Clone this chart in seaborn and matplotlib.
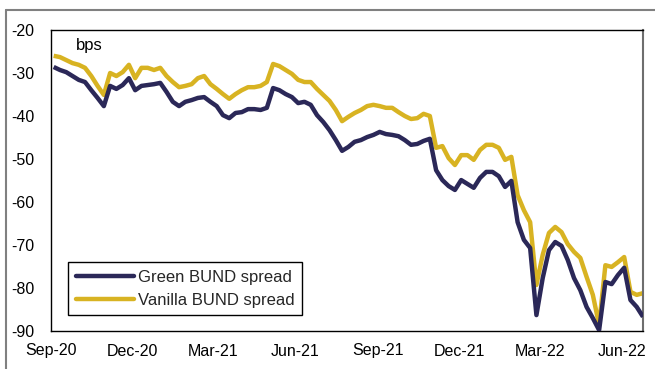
import matplotlib
matplotlib.use("Agg")
import matplotlib.pyplot as plt
import matplotlib.dates as mdates
from matplotlib.lines import Line2D
import numpy as np
import pandas as pd
import seaborn as sns

# Weekly observations (Fridays), Sep 2020 - Jun 2022, spread to Bund in bps
week_start = "2020-09-04"
n_weeks = 95

green_spread = [
    -28.6, -29.3, -29.8, -30.7, -31.6, -32.1, -34.0, -35.8, -37.7, -33.0,
    -33.7, -32.8, -31.2, -34.0, -33.0, -32.8, -32.6, -32.3, -34.4, -36.7,
    -37.7, -36.7, -36.3, -35.8, -35.6, -36.7, -37.7, -39.8, -40.5, -39.3,
    -39.1, -38.4, -38.4, -38.6, -38.1, -33.5, -34.0, -34.9, -35.6, -37.0,
    -36.7, -37.4, -39.8, -41.4, -43.3, -45.6, -48.1, -47.2, -46.0, -45.6,
    -44.9, -44.4, -43.7, -44.2, -44.4, -44.7, -45.6, -46.7, -46.5, -45.8,
    -45.3, -52.6, -54.9, -56.3, -57.2, -54.9, -55.8, -56.7, -54.4, -53.0,
    -53.0, -54.0, -56.5, -55.1, -64.7, -68.8, -70.7, -86.3, -77.7, -71.2,
    -69.3, -70.2, -73.5, -77.7, -80.5, -84.4, -87.0, -89.8, -78.6, -79.1,
    -77.0, -75.3, -82.8, -84.4, -86.7,
]

vanilla_spread = [
    -26.0, -26.3, -27.0, -27.7, -28.1, -28.8, -30.7, -33.0, -35.1, -30.0,
    -30.7, -29.8, -28.1, -31.2, -28.8, -28.8, -29.3, -28.8, -30.7, -32.1,
    -33.3, -33.0, -32.6, -31.2, -30.7, -32.6, -33.7, -34.9, -36.0, -34.9,
    -34.0, -33.3, -33.3, -33.0, -32.1, -27.9, -28.4, -29.3, -30.2, -31.6,
    -32.1, -32.1, -33.7, -35.1, -36.5, -38.6, -41.2, -40.2, -39.3, -38.6,
    -37.7, -37.4, -37.7, -38.1, -38.1, -39.1, -40.0, -40.7, -40.5, -39.5,
    -40.0, -47.4, -47.0, -49.8, -51.4, -49.1, -49.1, -50.2, -47.9, -46.7,
    -46.7, -47.4, -50.2, -49.5, -58.4, -61.9, -64.7, -79.3, -72.3, -67.2,
    -65.8, -67.0, -69.8, -71.6, -73.0, -77.4, -81.6, -88.6, -74.7, -75.1,
    -74.0, -72.8, -80.9, -81.6, -81.2,
]

series_names = ["Green BUND spread", "Vanilla BUND spread"]
series_colors = ["#2b2858", "#d8b322"]
quarter_ticks = ["2020-09-01", "2020-12-01", "2021-03-01", "2021-06-01",
                 "2021-09-01", "2021-12-01", "2022-03-01", "2022-06-01"]
y_ticks = [-90, -80, -70, -60, -50, -40, -30, -20]

dates = pd.date_range(week_start, periods=n_weeks, freq="7D")
df = pd.concat([
    pd.DataFrame({"date": dates, "spread": green_spread, "series": series_names[0]}),
    pd.DataFrame({"date": dates, "spread": vanilla_spread, "series": series_names[1]}),
])

sns.set_theme(style="white")
plt.rcParams["font.family"] = ["Liberation Sans", "DejaVu Sans"]
plt.rcParams["axes.unicode_minus"] = False

fig = plt.figure(figsize=(6.55, 3.69), dpi=100)
fig.patch.set_facecolor("white")
W, H = 655, 369
ax = fig.add_axes([51 / W, (H - 331) / H, 592 / W, 301 / H])

# draw vanilla first so the green line sits on top
sns.lineplot(data=df, x="date", y="spread", hue="series",
             hue_order=series_names[::-1], palette=series_colors[::-1],
             linewidth=3.2, ax=ax, legend=False)
for ln in ax.get_lines():
    ln.set_solid_capstyle("butt")
    ln.set_solid_joinstyle("round")
ax.get_lines()[0].set_zorder(2)
ax.get_lines()[1].set_zorder(3)

ax.set_xlim(pd.Timestamp("2020-09-01"), pd.Timestamp("2022-06-24"))
ax.set_ylim(-90, -20)
ax.set_yticks(y_ticks)
ax.set_xticks(pd.to_datetime(quarter_ticks))
ax.xaxis.set_major_formatter(mdates.DateFormatter("%b-%y"))
ax.set_xlabel("")
ax.set_ylabel("")
ax.tick_params(axis="y", direction="in", length=4, width=1, pad=12,
               labelsize=11.5, colors="black")
ax.tick_params(axis="x", length=0, pad=9, labelsize=11.5, colors="black")

for side in ["left", "bottom", "top"]:
    ax.spines[side].set_color("black")
    ax.spines[side].set_linewidth(1.0)
ax.spines["right"].set_color("#6e6e6e")
ax.spines["right"].set_linewidth(1.5)

ax.text(0.042, 0.948, "bps", transform=ax.transAxes, fontsize=12,
        va="center", ha="left", color="black")

handles = [Line2D([], [], color=c, linewidth=3.2) for c in series_colors]
leg = ax.legend(handles, series_names, loc="lower left",
                bbox_to_anchor=(0.029, 0.052), borderaxespad=0,
                fontsize=12, frameon=True, fancybox=False, framealpha=1,
                edgecolor="black", handlelength=3.5, handletextpad=0.25,
                labelspacing=0.5, borderpad=0.45)
leg.get_frame().set_linewidth(1.0)

# outer panel border
fig.add_artist(Line2D([6 / W, 6 / W], [0, 1 - 9.5 / H], transform=fig.transFigure,
                      color="#808080", linewidth=1.5))
fig.add_artist(Line2D([6 / W, 1], [1 - 9.5 / H, 1 - 9.5 / H], transform=fig.transFigure,
                      color="#808080", linewidth=1.5))

fig.savefig("out.png", dpi=100)
